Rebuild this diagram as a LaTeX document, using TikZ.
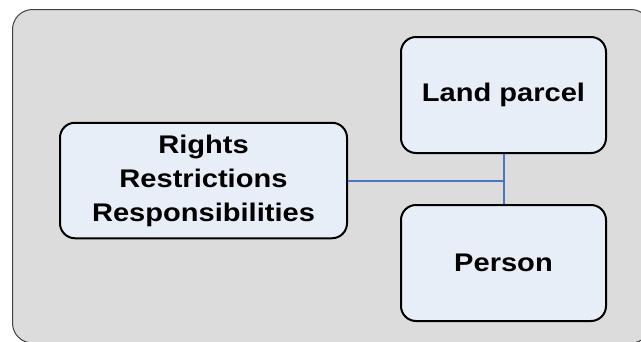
\documentclass[tikz,border=0pt]{standalone}
\usepackage{fontspec}
\setmainfont{Liberation Sans}
\usepackage{graphicx}
\begin{document}
\begin{tikzpicture}[x=1pt,y=-1pt,
  panel/.style={draw=black!75, line width=1pt, fill=panelgray, rounded corners=20pt},
  entity/.style={draw=black, line width=2pt, fill=boxblue, rounded corners=15pt,
    inner sep=0pt, align=center,
    font=\fontsize{25.5}{34}\selectfont\bfseries},
  link/.style={draw=linkblue, line width=2pt}]
\definecolor{panelgray}{HTML}{DCDCDC}
\definecolor{boxblue}{HTML}{E8EEF8}
\definecolor{linkblue}{HTML}{4A76C0}
\useasboundingbox[fill=white] (0,0) rectangle (641,341);
% background panel
\begin{scope}
\clip (0,0) rectangle (641,341);
\draw[panel] (12.5,9.5) rectangle (651,343);
\end{scope}
% entities
\node[entity, minimum width=205pt, minimum height=116pt] (land) at (503.5,95)
  {\scalebox{1.14}[1]{Land parcel}};
\node[entity, minimum width=205pt, minimum height=116pt] (person) at (503.5,263)
  {\scalebox{1.14}[1]{Person}};
\node[entity, minimum width=287pt, minimum height=115.5pt] (rrr) at (203.5,180.5)
  {\scalebox{1.14}[1]{Rights}\\\scalebox{1.14}[1]{Restrictions}\\\scalebox{1.14}[1]{Responsibilities}};
% connectors
\draw[link] (land.south) -- (person.north);
\draw[link] (rrr.east) -- (rrr.east -| land.south);
\end{tikzpicture}
\end{document}
